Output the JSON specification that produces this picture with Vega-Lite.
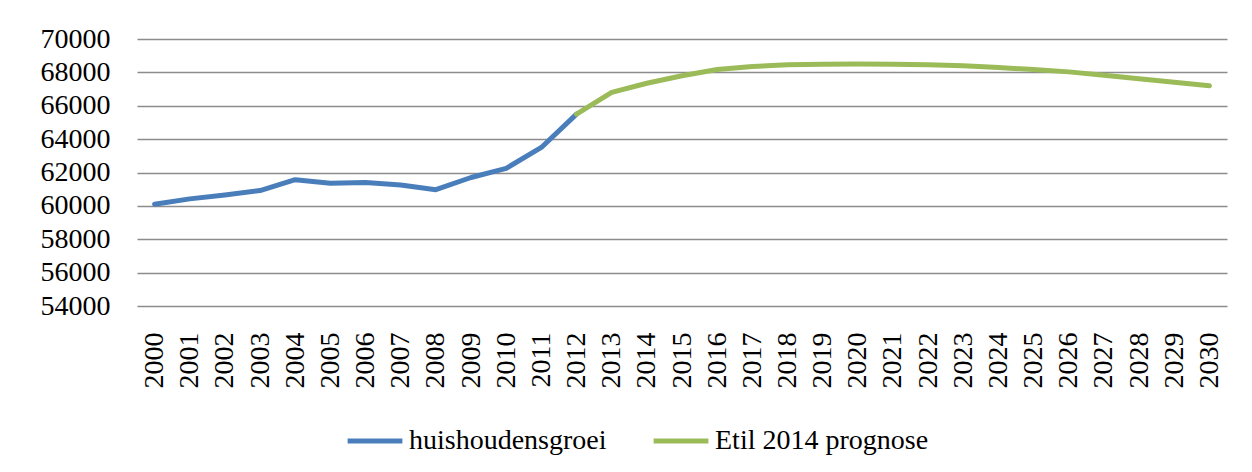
{
  "$schema": "https://vega.github.io/schema/vega-lite/v6.json",
  "autosize": {"type": "none"},
  "width": 1090,
  "height": 267,
  "padding": {"left": 137, "top": 39, "right": 25, "bottom": 166},
  "background": "white",
  "config": {
    "font": "Liberation Serif",
    "view": {"stroke": null},
    "axis": {"labelFont": "Liberation Serif", "labelFontSize": 28, "labelColor": "#000000"},
    "legend": {"labelFont": "Liberation Serif", "labelFontSize": 28, "labelColor": "#000000", "labelLimit": 500}
  },
  "data": {
    "values": [
      {"year": "2000", "series": "huishoudensgroei", "value": 60100},
      {"year": "2001", "series": "huishoudensgroei", "value": 60420},
      {"year": "2002", "series": "huishoudensgroei", "value": 60650},
      {"year": "2003", "series": "huishoudensgroei", "value": 60920},
      {"year": "2004", "series": "huishoudensgroei", "value": 61570},
      {"year": "2005", "series": "huishoudensgroei", "value": 61350},
      {"year": "2006", "series": "huishoudensgroei", "value": 61400},
      {"year": "2007", "series": "huishoudensgroei", "value": 61250},
      {"year": "2008", "series": "huishoudensgroei", "value": 60970},
      {"year": "2009", "series": "huishoudensgroei", "value": 61700},
      {"year": "2010", "series": "huishoudensgroei", "value": 62250},
      {"year": "2011", "series": "huishoudensgroei", "value": 63500},
      {"year": "2012", "series": "huishoudensgroei", "value": 65500},
      {"year": "2012", "series": "Etil 2014 prognose", "value": 65500},
      {"year": "2013", "series": "Etil 2014 prognose", "value": 66800},
      {"year": "2014", "series": "Etil 2014 prognose", "value": 67350},
      {"year": "2015", "series": "Etil 2014 prognose", "value": 67800},
      {"year": "2016", "series": "Etil 2014 prognose", "value": 68170},
      {"year": "2017", "series": "Etil 2014 prognose", "value": 68350},
      {"year": "2018", "series": "Etil 2014 prognose", "value": 68450},
      {"year": "2019", "series": "Etil 2014 prognose", "value": 68490},
      {"year": "2020", "series": "Etil 2014 prognose", "value": 68500},
      {"year": "2021", "series": "Etil 2014 prognose", "value": 68490},
      {"year": "2022", "series": "Etil 2014 prognose", "value": 68450},
      {"year": "2023", "series": "Etil 2014 prognose", "value": 68390},
      {"year": "2024", "series": "Etil 2014 prognose", "value": 68290},
      {"year": "2025", "series": "Etil 2014 prognose", "value": 68170},
      {"year": "2026", "series": "Etil 2014 prognose", "value": 68030},
      {"year": "2027", "series": "Etil 2014 prognose", "value": 67830},
      {"year": "2028", "series": "Etil 2014 prognose", "value": 67620},
      {"year": "2029", "series": "Etil 2014 prognose", "value": 67410},
      {"year": "2030", "series": "Etil 2014 prognose", "value": 67200}
    ]
  },
  "encoding": {
    "x": {
      "field": "year",
      "type": "ordinal",
      "scale": {"type": "point", "padding": 0.5},
      "axis": {
        "title": null,
        "labelAngle": 270,
        "labelAlign": "right",
        "labelBaseline": "middle",
        "labelPadding": 26,
        "ticks": false,
        "domain": false,
        "grid": false
      }
    },
    "y": {
      "field": "value",
      "type": "quantitative",
      "scale": {"domain": [54000, 70000], "nice": false, "zero": false},
      "axis": {
        "title": null,
        "values": [54000, 56000, 58000, 60000, 62000, 64000, 66000, 68000, 70000],
        "format": "d",
        "ticks": false,
        "domain": false,
        "labelPadding": 27,
        "grid": true,
        "gridColor": "#8c8c8c",
        "gridWidth": 1.5
      }
    },
    "color": {
      "field": "series",
      "type": "nominal",
      "scale": {"domain": ["huishoudensgroei", "Etil 2014 prognose"], "range": ["#4a7ebb", "#9bbb59"]},
      "legend": {
        "title": null,
        "orient": "none",
        "direction": "horizontal",
        "legendX": 208,
        "legendY": 372,
        "symbolType": "stroke",
        "symbolSize": 3000,
        "symbolStrokeWidth": 5,
        "labelOffset": 4,
        "columnPadding": 36
      }
    }
  },
  "layer": [
    {
      "transform": [{"filter": "datum.series === 'huishoudensgroei'"}],
      "mark": {"type": "line", "strokeWidth": 5, "strokeCap": "round", "strokeJoin": "round"}
    },
    {
      "transform": [{"filter": "datum.series === 'Etil 2014 prognose'"}],
      "mark": {"type": "line", "strokeWidth": 5, "strokeCap": "round", "strokeJoin": "round"}
    }
  ]
}
